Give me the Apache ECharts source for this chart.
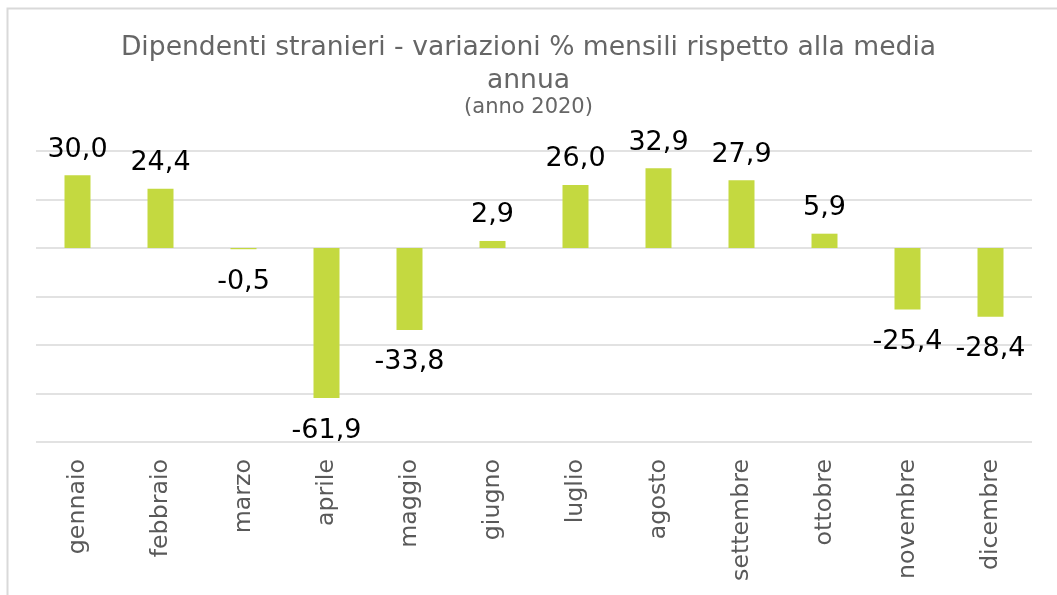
<!DOCTYPE html>
<html>
<head>
<meta charset="utf-8">
<script src="https://cdn.jsdelivr.net/npm/echarts@6/dist/echarts.min.js"></script>
<style>html,body{margin:0;padding:0;background:#fff;}#c{width:1057px;height:595px;}</style>
</head>
<body>
<div id="c"></div>
<script>
const categories = ['gennaio','febbraio','marzo','aprile','maggio','giugno','luglio','agosto','settembre','ottobre','novembre','dicembre'];
const values = [30.0, 24.4, -0.5, -61.9, -33.8, 2.9, 26.0, 32.9, 27.9, 5.9, -25.4, -28.4];
const titleText = 'Dipendenti stranieri - variazioni % mensili rispetto alla media\nannua';
const subText = '(anno 2020)';

const chart = echarts.init(document.getElementById('c'), null, {renderer: 'canvas'});
const FONT = 'DejaVu Sans';
chart.setOption({
  animation: false,
  backgroundColor: '#fff',
  graphic: [{
    type: 'rect', left: 5, top: 6, silent: true,
    shape: {x: 0, y: 0, width: 1100, height: 700},
    style: {fill: 'none', stroke: '#d9d9d9', lineWidth: 2}
  }],
  title: {
    text: titleText,
    subtext: subText,
    left: 'center',
    top: 27,
    itemGap: -2,
    textStyle: {fontFamily: FONT, fontSize: 26.6, fontWeight: 'normal', color: '#666666', lineHeight: 33},
    subtextStyle: {fontFamily: FONT, fontSize: 21, color: '#666666', lineHeight: 24}
  },
  grid: {left: 36, right: 25, top: 151, bottom: 153, containLabel: false},
  xAxis: {
    type: 'category',
    data: categories,
    axisLine: {show: false},
    axisTick: {show: false},
    axisLabel: {rotate: 90, margin: 17, fontFamily: FONT, fontSize: 23.7, color: '#595959'}
  },
  yAxis: {
    type: 'value',
    min: -80, max: 40, interval: 20,
    axisLabel: {show: false},
    axisLine: {show: false},
    axisTick: {show: false},
    splitLine: {lineStyle: {color: '#d9d9d9', width: 1.5}}
  },
  series: [{
    type: 'bar',
    data: values.map(v => ({value: v, label: {position: v >= 0 ? 'top' : 'bottom', distance: v >= 0 ? 12 : 19}})),
    barWidth: 26,
    itemStyle: {color: '#c4d940'},
    label: {
      show: true,
      fontFamily: FONT,
      fontSize: 27,
      color: '#000',
      formatter: p => p.value.toFixed(1).replace('.', ',')
    }
  }]
});
</script>
</body>
</html>
